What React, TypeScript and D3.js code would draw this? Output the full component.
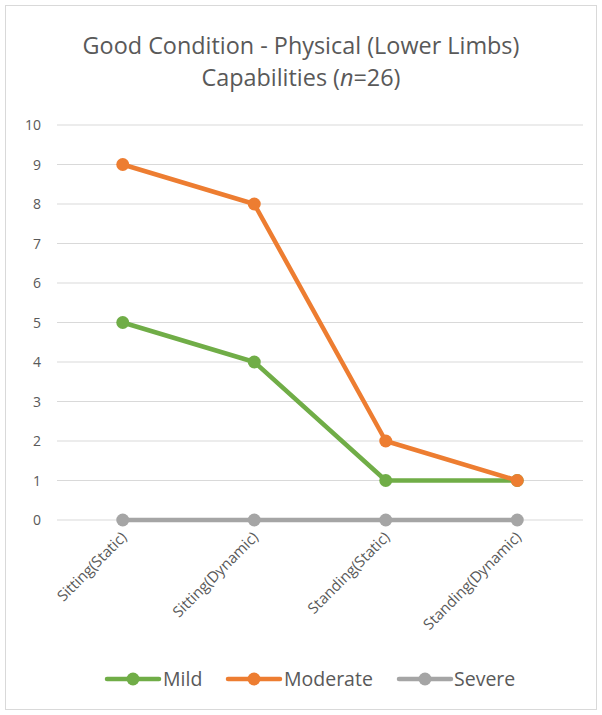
import React from "react";
import * as d3 from "d3";

const categories = ["Sitting(Static)", "Sitting(Dynamic)", "Standing(Static)", "Standing(Dynamic)"];
const mild = [5, 4, 1, 1];
const moderate = [9, 8, 2, 1];
const severe = [0, 0, 0, 0];
const yTicks = [0, 1, 2, 3, 4, 5, 6, 7, 8, 9, 10];

const series = [
  { name: "Mild", values: mild, color: "#70AD47" },
  { name: "Moderate", values: moderate, color: "#ED7D31" },
  { name: "Severe", values: severe, color: "#A5A5A5" },
];

export default function App() {
  const W = 602, H = 715;
  const left = 57, right = 583, top = 125, bottom = 520;
  const x = d3.scaleBand<string>().domain(categories).range([left, right]);
  const y = d3.scaleLinear().domain([0, 10]).range([bottom, top]);
  const font = "'Open Sans', 'Liberation Sans', sans-serif";
  const line = d3
    .line<number>()
    .x((_, i) => (x(categories[i]) as number) + x.bandwidth() / 2)
    .y((d) => y(d));
  const legendItems = [
    { x: 107, tx: 163 },
    { x: 228, tx: 284 },
    { x: 399, tx: 454 },
  ];
  return (
    <svg width={W} height={H} style={{ position: "absolute", left: 0, top: 0 }}>
      <rect x={0} y={0} width={W} height={H} fill="#fff" />
      <rect x={5.5} y={5.5} width={591} height={704} fill="#fff" stroke="#D9D9D9" strokeWidth={1} />
      <text x={W / 2} y={54} textAnchor="middle" fontFamily={font} fontSize={23.4} fill="#595959">
        Good Condition - Physical (Lower Limbs)
      </text>
      <text x={W / 2} y={86} textAnchor="middle" fontFamily={font} fontSize={23.4} fill="#595959">
        Capabilities (<tspan fontStyle="italic">n</tspan>=26)
      </text>
      {yTicks.map((t) => (
        <g key={t}>
          <line x1={left} x2={right} y1={y(t)} y2={y(t)} stroke="#D9D9D9" strokeWidth={1} />
          <text x={41} y={y(t) + 5} textAnchor="end" fontFamily={font} fontSize={14} fill="#595959">
            {t}
          </text>
        </g>
      ))}
      {categories.map((c) => {
        const cx = (x(c) as number) + x.bandwidth() / 2;
        return (
          <text
            key={c}
            transform={`translate(${cx + 5},${bottom + 18}) rotate(-45)`}
            textAnchor="end"
            fontFamily={font}
            fontSize={15}
            fill="#595959"
          >
            {c}
          </text>
        );
      })}
      {series.map((s) => (
        <g key={s.name}>
          <path d={line(s.values) as string} fill="none" stroke={s.color} strokeWidth={4.5} strokeLinecap="round" strokeLinejoin="round" />
          {s.values.map((v, i) => (
            <circle key={i} cx={(x(categories[i]) as number) + x.bandwidth() / 2} cy={y(v)} r={6.5} fill={s.color} />
          ))}
        </g>
      ))}
      {series.map((s, i) => (
        <g key={s.name}>
          <line x1={legendItems[i].x} x2={legendItems[i].x + 52} y1={679} y2={679} stroke={s.color} strokeWidth={4.5} strokeLinecap="round" />
          <circle cx={legendItems[i].x + 26} cy={679} r={6.5} fill={s.color} />
          <text x={legendItems[i].tx} y={686} fontFamily={font} fontSize={19.5} fill="#595959">
            {s.name}
          </text>
        </g>
      ))}
    </svg>
  );
}
